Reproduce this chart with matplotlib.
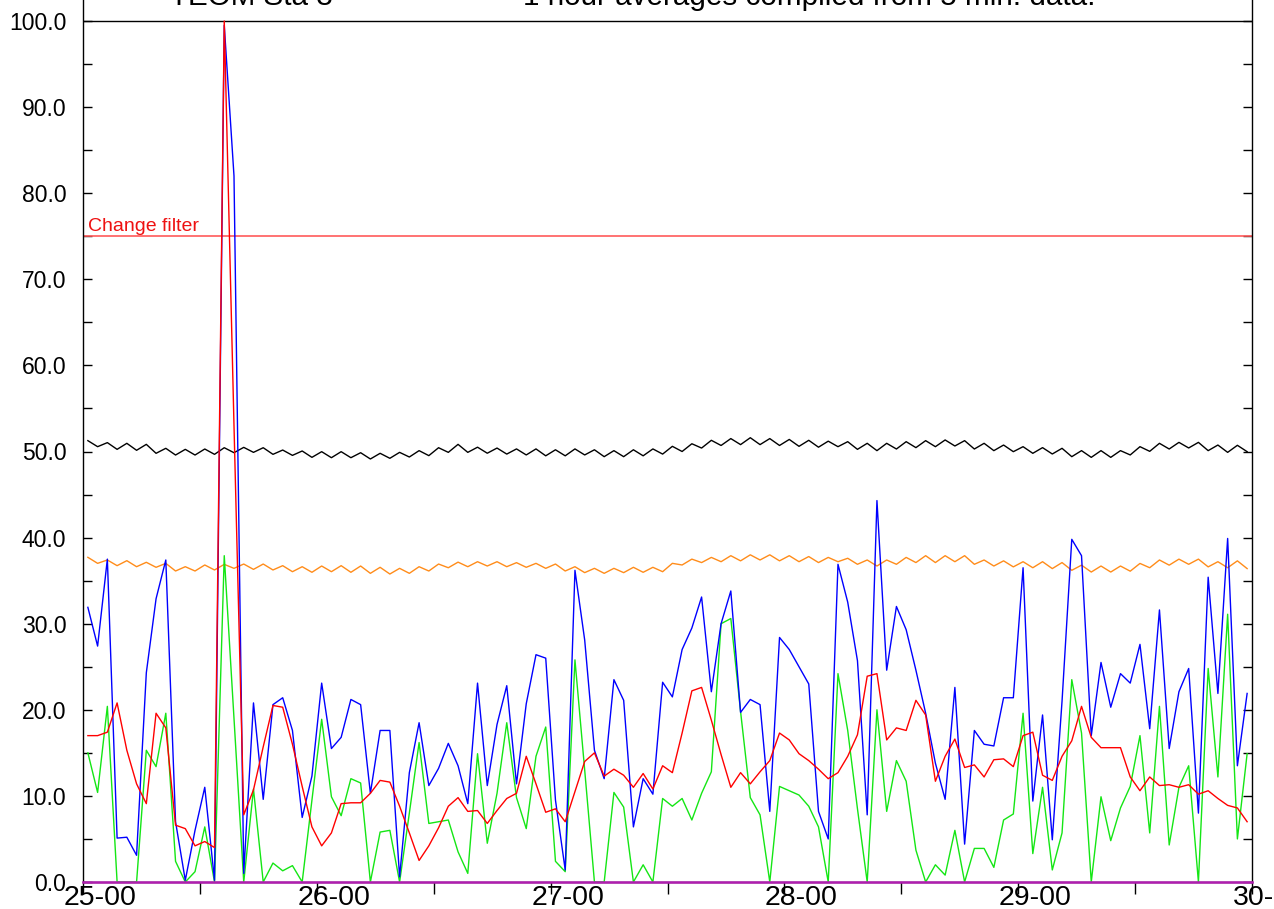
import numpy as np
import matplotlib.pyplot as plt
import matplotlib.transforms as mtransforms
from matplotlib.ticker import MultipleLocator, FuncFormatter

plt.rcParams['font.family'] = ['Liberation Sans', 'DejaVu Sans']

# 1 hour averages, 25-00 .. 29-23
blue_vals = [31.9, 27.4, 37.5, 5.1, 5.2, 3.1, 24.3, 32.9, 37.4, 7.0,
             0.2, 6.0, 11.0, 0.2, 99.5, 82.0, 1.0, 20.8, 9.6, 20.6,
             21.4, 17.6, 7.5, 12.3, 23.1, 15.5, 16.8, 21.2, 20.6, 10.3,
             17.6, 17.6, 0.6, 12.7, 18.5, 11.2, 13.2, 16.1, 13.5, 9.1,
             23.1, 11.2, 18.3, 22.8, 11.4, 20.7, 26.4, 26.0, 9.5, 1.4,
             36.2, 28.1, 15.3, 12.0, 23.5, 21.1, 6.4, 12.0, 10.2, 23.2,
             21.5, 27.0, 29.5, 33.1, 22.1, 30.0, 33.8, 19.7, 21.2, 20.6,
             8.2, 28.4, 27.0, 25.0, 23.0, 8.2, 5.0, 36.9, 32.5, 25.7,
             7.8, 44.3, 24.6, 32.0, 29.3, 24.6, 19.6, 13.8, 9.6, 22.6,
             4.4, 17.6, 16.0, 15.8, 21.4, 21.4, 36.5, 9.4, 19.4, 4.9,
             21.0, 39.8, 37.9, 17.0, 25.5, 20.3, 24.2, 23.1, 27.6, 17.8,
             31.6, 15.5, 22.1, 24.8, 8.0, 35.4, 21.9, 39.9, 13.5, 21.9]

red_vals = [17.0, 17.0, 17.4, 20.8, 15.3, 11.4, 9.1, 19.6, 17.9, 6.6,
            6.2, 4.2, 4.7, 4.0, 100.0, 53.0, 7.8, 10.7, 15.7, 20.5,
            20.3, 16.0, 11.1, 6.4, 4.2, 5.7, 9.1, 9.2, 9.2, 10.3,
            11.8, 11.6, 8.8, 5.7, 2.5, 4.2, 6.3, 8.8, 9.8, 8.2,
            8.3, 6.8, 8.3, 9.7, 10.3, 14.6, 11.4, 8.1, 8.5, 7.0,
            10.5, 14.0, 15.0, 12.3, 13.1, 12.4, 11.0, 12.6, 10.8, 13.5,
            12.7, 17.3, 22.2, 22.6, 18.8, 14.8, 11.0, 12.7, 11.4, 12.8,
            14.1, 17.3, 16.5, 14.9, 14.1, 13.1, 12.0, 12.7, 14.6, 17.1,
            23.9, 24.2, 16.5, 17.9, 17.6, 21.1, 19.4, 11.7, 14.6, 16.6,
            13.3, 13.6, 12.2, 14.2, 14.3, 13.4, 17.0, 17.4, 12.4, 11.8,
            14.6, 16.4, 20.4, 16.8, 15.6, 15.6, 15.6, 12.2, 10.6, 12.2,
            11.2, 11.3, 11.0, 11.3, 10.2, 10.6, 9.7, 8.9, 8.6, 7.0]

green_vals = [15.0, 10.4, 20.4, 0.0, 0.0, 0.0, 15.3, 13.4, 19.6, 2.4,
              0.0, 1.2, 6.4, 0.0, 37.9, 19.0, 0.0, 10.8, 0.0, 2.2,
              1.3, 1.9, 0.0, 9.5, 18.9, 9.9, 7.7, 12.0, 11.5, 0.0,
              5.8, 6.0, 0.0, 8.0, 16.2, 6.8, 7.0, 7.2, 3.5, 1.0,
              14.9, 4.5, 10.3, 18.5, 9.8, 6.2, 14.6, 18.0, 2.4, 1.2,
              25.8, 13.0, 0.0, 0.0, 10.4, 8.7, 0.0, 2.0, 0.0, 9.7,
              8.8, 9.7, 7.2, 10.3, 12.8, 30.0, 30.6, 19.8, 9.8, 7.8,
              0.0, 11.1, 10.6, 10.1, 8.8, 6.4, 0.0, 24.2, 17.6, 8.5,
              0.0, 20.0, 8.2, 14.1, 11.7, 3.7, 0.0, 2.0, 0.8, 6.0,
              0.0, 3.9, 3.9, 1.7, 7.2, 7.9, 19.6, 3.3, 11.0, 1.4,
              5.7, 23.5, 17.3, 0.0, 9.9, 4.8, 8.6, 11.1, 17.0, 5.7,
              20.4, 4.3, 11.0, 13.5, 0.0, 24.8, 12.2, 31.1, 5.0, 14.9]

black_vals = [51.26, 50.56, 51.03, 50.25, 50.95, 50.14, 50.83, 49.79, 50.37, 49.59,
              50.25, 49.59, 50.29, 49.67, 50.44, 49.86, 50.48, 49.90, 50.44, 49.67,
              50.17, 49.55, 50.06, 49.32, 49.98, 49.28, 49.98, 49.28, 49.86, 49.13,
              49.79, 49.21, 49.90, 49.36, 50.10, 49.52, 50.44, 49.90, 50.83, 49.90,
              50.50, 49.80, 50.40, 49.70, 50.30, 49.60, 50.30, 49.50, 50.20, 49.50,
              50.30, 49.60, 50.20, 49.40, 50.10, 49.40, 50.20, 49.50, 50.30, 49.70,
              50.60, 50.00, 50.90, 50.40, 51.30, 50.70, 51.50, 50.80, 51.60, 50.80,
              51.50, 50.70, 51.40, 50.60, 51.30, 50.50, 51.20, 50.56, 51.14, 50.25,
              50.95, 50.10, 50.95, 50.29, 51.14, 50.45, 51.26, 50.56, 51.34, 50.64,
              51.26, 50.29, 50.95, 50.10, 50.75, 49.98, 50.56, 49.79, 50.45, 49.71,
              50.37, 49.40, 50.10, 49.32, 50.10, 49.32, 50.10, 49.60, 50.56, 50.02,
              50.95, 50.29, 51.06, 50.41, 51.06, 50.10, 50.75, 49.90, 50.72, 49.98]

orange_vals = [37.71, 37.01, 37.40, 36.74, 37.32, 36.62, 37.13, 36.55, 37.01, 36.12,
               36.62, 36.12, 36.82, 36.24, 36.89, 36.43, 36.93, 36.31, 36.93, 36.24,
               36.74, 36.04, 36.62, 35.97, 36.70, 36.04, 36.74, 35.97, 36.70, 35.85,
               36.55, 35.77, 36.43, 35.85, 36.62, 36.12, 36.93, 36.50, 37.15, 36.62,
               37.20, 36.70, 37.20, 36.62, 37.09, 36.55, 37.01, 36.43, 36.93, 36.12,
               36.62, 35.93, 36.43, 35.85, 36.43, 35.93, 36.55, 35.97, 36.55, 36.04,
               37.01, 36.82, 37.50, 37.10, 37.70, 37.20, 37.90, 37.30, 38.00, 37.40,
               38.00, 37.30, 37.90, 37.20, 37.80, 37.10, 37.70, 37.20, 37.60, 36.90,
               37.40, 36.70, 37.40, 36.90, 37.70, 37.10, 37.90, 37.10, 37.90, 37.20,
               37.90, 36.90, 37.40, 36.70, 37.30, 36.60, 37.20, 36.50, 37.20, 36.40,
               37.10, 36.20, 36.80, 36.00, 36.70, 36.00, 36.70, 36.10, 37.00, 36.50,
               37.40, 36.80, 37.50, 36.90, 37.50, 36.60, 37.20, 36.50, 37.30, 36.40]

filter_level = 75.0
day_labels = ['25-00', '26-00', '27-00', '28-00', '29-00', '30-00']
first_day = 25

hours = np.arange(len(blue_vals)) + 0.5
days = first_day + hours / 24.0

W, H = 1274, 909
fig = plt.figure(figsize=(W / 100, H / 100), dpi=100)
ax = fig.add_axes([83 / W, 27 / H, (1252 - 83) / W, 882 / H])

ax.plot(days, black_vals, color='black', lw=1.0, zorder=3)
ax.plot(days, orange_vals, color='#FF8C1A', lw=1.0, zorder=3)
ax.plot(days, green_vals, color='#14E614', lw=1.0, zorder=4)
ax.plot(days, blue_vals, color='#0000FF', lw=1.0, zorder=5)
ax.plot(days, red_vals, color='#FF0000', lw=1.0, zorder=6)

ax.axhline(100, color='black', lw=1.0, zorder=2)
ax.axhline(filter_level, color='#FF5A5A', lw=1.2, zorder=2)
ax.annotate('Change filter', xy=(0.004, filter_level), xycoords=('axes fraction', 'data'),
            xytext=(0, 4), textcoords='offset points', color='#EE1111',
            fontsize=14, va='baseline', ha='left')
ax.axhline(0, color='#B01EB0', lw=1.8, zorder=7, clip_on=False)

ax.set_xlim(first_day, first_day + len(day_labels) - 1)
ax.set_ylim(0, 100 + 21 / 8.61)

ax.spines['top'].set_visible(False)
for s in ['left', 'right', 'bottom']:
    ax.spines[s].set_linewidth(1.0)

ax.yaxis.set_major_locator(MultipleLocator(10))
ax.yaxis.set_minor_locator(MultipleLocator(5))
ax.yaxis.set_major_formatter(FuncFormatter(lambda v, p: '%.1f' % v if v <= 100 else ''))
ax.tick_params(axis='y', which='both', direction='in', length=6.5, width=1,
               left=True, right=True, labelsize=16.5, pad=12)

ax.xaxis.set_minor_locator(MultipleLocator(0.5))
ax.set_xticks(np.arange(first_day, first_day + len(day_labels)))
ax.set_xticklabels(day_labels)
ax.tick_params(axis='x', which='both', direction='out', length=8.5, width=1,
               pad=-6.5, labelsize=20.5)
shift = mtransforms.ScaledTranslation(17 / 100, 0, fig.dpi_scale_trans)
for lab in ax.get_xticklabels():
    lab.set_transform(lab.get_transform() + shift)

fig.text(170 / W, 1 - 5 / H, 'TEOM Sta 3', ha='left', va='baseline', fontsize=21.3)
fig.text(523 / W, 1 - 5 / H, '1 hour averages compiled from 5 min. data.',
         ha='left', va='baseline', fontsize=21.3)

fig.savefig('out.png', dpi=100)
